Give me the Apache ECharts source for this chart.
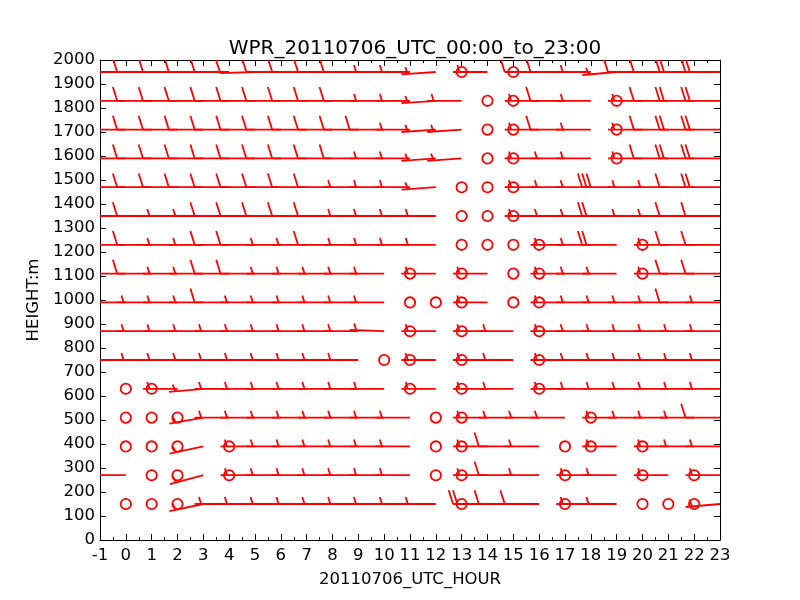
<!DOCTYPE html>
<html><head><meta charset="utf-8">
<script src="https://cdn.jsdelivr.net/npm/echarts@6/dist/echarts.min.js"></script>
<style>html,body{margin:0;padding:0;background:#fff}#c{width:800px;height:600px}</style>
</head><body><div id="c"></div>
<script>
// ---- data (wind speed in knots, direction wind comes from in degrees) ----
const hours = [0,1,2,3,4,5,6,7,8,9,10,11,12,13,14,15,16,17,18,19,20,21,22,23];
const heights = [150,270,390,510,630,750,870,990,1110,1230,1350,1470,1590,1710,1830,1950];

const spd150  = [0,0,0,5,5,5,5,5,5,5,5,5,5,0,20,10,10,0,5,5,0,0,0,5];
const spd270  = [5,0,0,5,0,5,5,5,5,5,5,5,0,0,5,10,5,0,5,5,0,5,0,5];
const spd390  = [0,0,0,5,0,5,5,5,5,5,5,5,0,0,5,10,5,0,0,5,0,5,5,5];
const spd510  = [0,0,0,5,5,5,5,5,5,5,5,5,0,0,5,5,5,5,0,5,5,5,5,10];
const spd630  = [0,0,5,5,5,5,5,5,5,5,5,0,5,0,5,5,0,5,5,5,5,5,5,5];
const spd750  = [5,5,5,5,5,5,5,5,5,5,0,0,5,0,5,5,0,5,5,5,5,5,5,5];
const spd870  = [5,5,5,5,5,5,5,5,5,5,5,0,5,0,5,5,0,5,5,5,5,5,5,5];
const spd990  = [5,5,5,5,10,5,5,5,5,5,5,0,0,0,5,0,0,5,5,5,5,5,10,5];
const spd1110 = [10,10,5,5,10,10,5,5,5,5,5,0,5,0,5,0,0,5,5,5,0,5,10,10];
const spd1230 = [10,10,5,5,10,10,5,5,10,5,5,5,5,0,0,0,0,5,5,20,0,5,10,10];
const spd1350 = [10,10,5,5,10,10,10,10,10,5,5,5,5,0,0,0,5,5,5,20,5,5,10,10];
const spd1470 = [10,10,10,10,10,10,10,10,10,5,5,5,5,0,0,0,5,5,5,30,5,5,10,20];
const spd1590 = [10,10,10,10,10,10,10,10,10,10,5,5,5,5,0,0,5,5,5,0,5,10,20,20];
const spd1710 = [10,10,10,10,10,10,10,10,10,10,10,5,5,5,0,0,5,10,5,0,5,10,20,20];
const spd1830 = [10,10,10,10,10,10,10,10,10,10,5,5,5,5,0,0,5,10,5,0,5,10,20,20];
const spd1950 = [10,10,10,10,10,10,10,10,10,10,5,5,5,0,5,0,10,10,5,5,10,10,20,20];

const dir150  = [270,270,270,258,270,270,270,270,270,270,270,270,270,270,270,270,270,270,270,270,270,270,270,265];
const dir270  = [270,270,270,255,270,270,270,270,270,270,270,270,270,270,270,270,270,270,270,270,270,270,270,270];
const dir390  = [270,270,270,258,270,270,270,270,270,270,270,270,270,270,270,270,270,270,270,270,270,270,270,270];
const dir510  = [270,270,270,260,270,270,270,270,270,270,270,270,270,270,270,270,270,270,270,270,270,270,270,270];
const dir630  = [270,270,270,265,270,270,270,270,270,270,270,270,270,270,270,270,270,270,270,270,270,270,270,270];
const dir750  = [270,270,270,270,270,270,270,270,270,270,270,270,270,270,270,270,270,270,270,270,270,270,270,270];
const dir870  = [270,270,270,270,270,270,270,270,270,270,272,270,270,270,270,270,270,270,270,270,270,270,270,270];
const dir990  = [270,270,270,270,270,270,270,270,270,270,270,270,270,270,270,270,270,270,270,270,270,270,270,270];
const dir1110 = [270,270,270,270,270,270,270,270,270,270,270,270,270,270,270,270,270,270,270,270,270,270,270,270];
const dir1230 = [270,270,270,270,270,270,270,270,270,270,270,270,270,270,270,270,270,270,270,270,270,270,270,270];
const dir1350 = [270,270,270,270,270,270,270,270,270,270,270,270,270,270,270,270,270,270,270,270,270,270,270,270];
const dir1470 = [270,270,270,270,270,270,270,270,270,270,270,270,266,270,270,270,270,270,270,270,270,270,270,270];
const dir1590 = [270,270,270,270,270,270,270,270,270,270,270,270,266,266,270,270,270,270,270,270,270,270,270,270];
const dir1710 = [270,270,270,270,270,270,270,270,270,270,270,270,266,266,270,270,270,270,270,270,270,270,270,270];
const dir1830 = [270,270,270,270,270,270,270,270,270,270,270,270,266,270,270,270,270,270,270,270,270,270,270,270];
const dir1950 = [270,270,270,270,270,268,270,270,270,270,270,270,266,270,270,270,270,270,270,265,270,270,270,270];

const speedRows = [spd150,spd270,spd390,spd510,spd630,spd750,spd870,spd990,spd1110,spd1230,spd1350,spd1470,spd1590,spd1710,spd1830,spd1950];
const dirRows = [dir150,dir270,dir390,dir510,dir630,dir750,dir870,dir990,dir1110,dir1230,dir1350,dir1470,dir1590,dir1710,dir1830,dir1950];

const titleText = 'WPR_20110706_UTC_00:00_to_23:00';
const xName = '20110706_UTC_HOUR';
const yName = 'HEIGHT:m';

// ---- build data table ----
const barbData = [];
heights.forEach((h, i) => {
  hours.forEach((t, j) => {
    barbData.push([t, h, speedRows[i][j], dirRows[i][j]]);
  });
});

// ---- barb drawing (matplotlib-style geometry) ----
const RED = '#ff0000';
const LEN = 34.5;      // shaft length in px
const LW = 1.8;
const H = 0.4 * LEN, W = 0.25 * LEN, S = 0.125 * LEN, R = 0.15 * LEN;

function renderBarb(params, api) {
  const t = api.value(0), h = api.value(1), spd = api.value(2), dir = api.value(3);
  const p = api.coord([t, h]);
  const cs = params.coordSys;
  const children = [];
  const rs = Math.round(spd / 5) * 5;
  const lineStyle = {stroke: RED, lineWidth: LW, fill: null};
  if (rs <= 0) {
    children.push({type: 'circle', shape: {cx: p[0], cy: p[1], r: R}, style: lineStyle});
  } else {
    const rad = dir * Math.PI / 180;
    const d = [Math.sin(rad), -Math.cos(rad)];
    const n = [-d[1], d[0]];
    const at = (o, k) => [p[0] + d[0] * o + n[0] * k, p[1] + d[1] * o + n[1] * k];
    children.push({type: 'polyline', shape: {points: [p, at(LEN, 0)]}, style: lineStyle});
    const nflags = Math.floor(rs / 50);
    const nbarbs = Math.floor((rs % 50) / 10);
    const half = (rs % 10) >= 5;
    let o = LEN;
    for (let i = 0; i < nflags; i++) {
      children.push({type: 'polygon', shape: {points: [at(o, 0), at(o - W / 2, H), at(o - W, 0)]},
        style: {fill: RED, stroke: RED, lineWidth: LW}});
      o -= W + S;
    }
    for (let i = 0; i < nbarbs; i++) {
      children.push({type: 'polyline', shape: {points: [at(o, 0), at(o + W / 2, H)]}, style: lineStyle});
      o -= S;
    }
    if (half) {
      if (o === LEN) o -= 1.5 * S;
      children.push({type: 'polyline', shape: {points: [at(o, 0), at(o + W / 4, H / 2)]}, style: lineStyle});
    }
  }
  return {
    type: 'group',
    children: children,
    clipPath: {type: 'rect', shape: {x: cs.x, y: cs.y, width: cs.width, height: cs.height}}
  };
}

const FONT = 'DejaVu Sans';
const axisLine = {show: true, onZero: false, lineStyle: {color: '#000', width: 1}};
const plain = v => String(v);
const chart = echarts.init(document.getElementById('c'), null, {renderer: 'canvas'});
chart.setOption({
  animation: false,
  backgroundColor: '#fff',
  title: {text: titleText, left: 410, top: 34, textAlign: 'center',
    textStyle: {fontFamily: FONT, fontSize: 20, fontWeight: 'normal', color: '#000'}},
  grid: {left: 100, right: 80, top: 60, bottom: 60, containLabel: false},
  xAxis: [
    {type: 'value', min: -1, max: 23, interval: 1, position: 'bottom',
      axisLine: axisLine,
      axisTick: {show: true, inside: true, length: 6, lineStyle: {color: '#000'}},
      minorTick: {show: true, splitNumber: 2, length: 3, lineStyle: {color: '#000'}},
      axisLabel: {color: '#000', fontFamily: FONT, fontSize: 16.5, margin: 7, formatter: plain},
      splitLine: {show: false}, minorSplitLine: {show: false},
      name: xName, nameLocation: 'middle', nameGap: 31,
      nameTextStyle: {color: '#000', fontFamily: FONT, fontSize: 16.5}},
    {type: 'value', min: -1, max: 23, interval: 1, position: 'top',
      axisLine: axisLine,
      axisTick: {show: true, inside: true, length: 6, lineStyle: {color: '#000'}},
      minorTick: {show: true, splitNumber: 2, length: 3, lineStyle: {color: '#000'}},
      axisLabel: {show: false}, splitLine: {show: false}}
  ],
  yAxis: [
    {type: 'value', min: 0, max: 2000, interval: 100, position: 'left',
      axisLine: axisLine,
      axisTick: {show: true, inside: true, length: 6, lineStyle: {color: '#000'}},
      axisLabel: {color: '#000', fontFamily: FONT, fontSize: 16.5, margin: 5, formatter: plain},
      splitLine: {show: false},
      name: yName, nameLocation: 'middle', nameGap: 49, nameRotate: 90,
      nameTextStyle: {color: '#000', fontFamily: FONT, fontSize: 16.5}},
    {type: 'value', min: 0, max: 2000, interval: 100, position: 'right',
      axisLine: axisLine,
      axisTick: {show: true, inside: true, length: 6, lineStyle: {color: '#000'}},
      axisLabel: {show: false}, splitLine: {show: false}}
  ],
  series: [{
    type: 'custom',
    xAxisIndex: 0, yAxisIndex: 0,
    clip: true,
    renderItem: renderBarb,
    encode: {x: 0, y: 1},
    data: barbData,
    z: 1
  }]
});
</script>
</body></html>
